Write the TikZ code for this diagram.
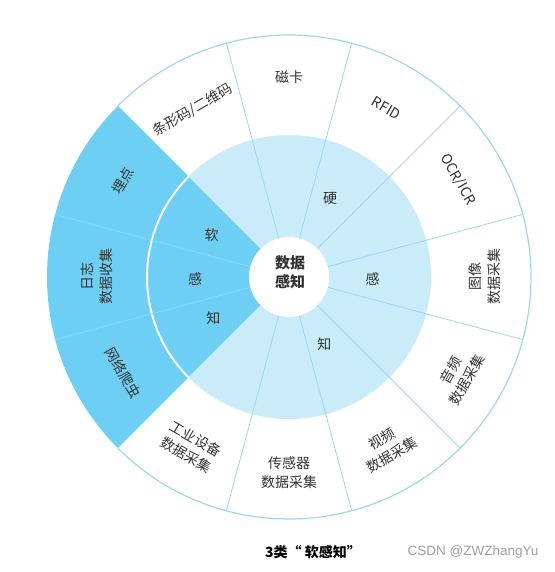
\documentclass[tikz,border=0pt]{standalone}
\usepackage{fontspec}
\setmainfont{Noto Sans CJK SC}
\newfontfamily\wmfont{Liberation Sans}
\usetikzlibrary{calc}
\definecolor{softblue}{HTML}{6DCFF4}
\definecolor{hardblue}{HTML}{CAEBF8}
\definecolor{linec}{HTML}{9FD8EE}
\definecolor{softline}{HTML}{8BD9F6}
\definecolor{txt}{HTML}{333333}
\definecolor{wm}{HTML}{A0A0A0}
\tikzset{
  outerlbl/.style={text=txt, font=\fontsize{14}{19}\selectfont, align=center, inner sep=0pt},
  innerlbl/.style={text=txt, font=\fontsize{14}{17}\selectfont, inner sep=0pt},
  radline/.style={draw=linec, line width=0.8pt},
  faintline/.style={draw=softline, line width=0.6pt}
}
\begin{document}
\begin{tikzpicture}[x=1pt,y=1pt]
\useasboundingbox (0,0) rectangle (554,572);
\fill[white] (0,0) rectangle (554,572);
\coordinate (C) at (289,295);
% outer disc
\fill[white] (C) circle (242);
% soft sector (outer + inner)
\fill[softblue] (C) -- ($(C)+(135:242)$) arc[start angle=135, end angle=225, radius=242] -- cycle;
% hard inner disc part
\fill[hardblue] (C) -- ($(C)+(135:142)$) arc[start angle=135, end angle=-135, radius=142] -- cycle;
% white separating arc in soft sector
\draw[white, line width=2pt] ($(C)+(135:142)$) arc[start angle=135, end angle=225, radius=142];
% radial lines of hard sectors
\foreach \a in {105,75,...,-105}
  \draw[radline] ($(C)+(\a:40)$) -- ($(C)+(\a:242)$);
% faint lines in soft sector
\foreach \a in {165,195}
  \draw[faintline] ($(C)+(\a:40)$) -- ($(C)+(\a:242)$);
% outer border
\draw[linec, line width=1.2pt] ($(C)+(-135:242)$) arc[start angle=-135, end angle=135, radius=242];
% center
\fill[white] (C) circle (40);
\node[text=txt, font=\fontsize{15}{19}\selectfont\bfseries, align=center, inner sep=0pt] (center) at (290,300) {数据\\感知};
% outer labels
\node[outerlbl, rotate=30]  (bar)   at ([shift={(120:193)}]C) {条形码/二维码};
\node[outerlbl]             (mag)   at ([shift={(90:200)}]C)  {磁卡};
\node[outerlbl, rotate=-30] (rfid)  at ([shift={(60:195)}]C)  {RFID};
\node[outerlbl, rotate=-60] (ocr)   at ([shift={(30:195)}]C)  {OCR/ICR};
\node[outerlbl, rotate=90]  (img)   at ([shift={(0:196)}]C)   {图像\\数据采集};
\node[outerlbl, rotate=60]  (aud)   at ([shift={(-30:196)}]C) {音频\\数据采集};
\node[outerlbl, rotate=30]  (vid)   at ([shift={(-60:196)}]C) {视频\\数据采集};
\node[outerlbl]             (sen)   at ([shift={(-90:196)}]C) {传感器\\数据采集};
\node[outerlbl, rotate=-30] (ind)   at ([shift={(-120:196)}]C) {工业设备\\数据采集};
\node[outerlbl, rotate=60]  (mai)   at ([shift={(150:192)}]C) {埋点};
\node[outerlbl, rotate=90]  (log)   at ([shift={(180:192)}]C) {日志\\数据收集};
\node[outerlbl, rotate=-60] (spi)   at ([shift={(210:192)}]C) {网络爬虫};
% inner labels
\node[innerlbl] (s1) at (211.7,337) {软};
\node[innerlbl] (s2) at (195,293)   {感};
\node[innerlbl] (s3) at (213.3,253.7) {知};
\node[innerlbl] (h1) at (330,373.7) {硬};
\node[innerlbl] (h2) at (372.7,293) {感};
\node[innerlbl] (h3) at (324.3,228) {知};
% caption and watermark
\node[text=black, font=\fontsize{14}{17}\selectfont\bfseries, inner sep=0pt] (cap) at (313,20) {3类“ 软感知”};
\node[text=wm, font=\wmfont\fontsize{13.5}{16}\selectfont, inner sep=0pt] (wmk) at (473,20) {CSDN @ZWZhangYu};
\end{tikzpicture}
\end{document}
